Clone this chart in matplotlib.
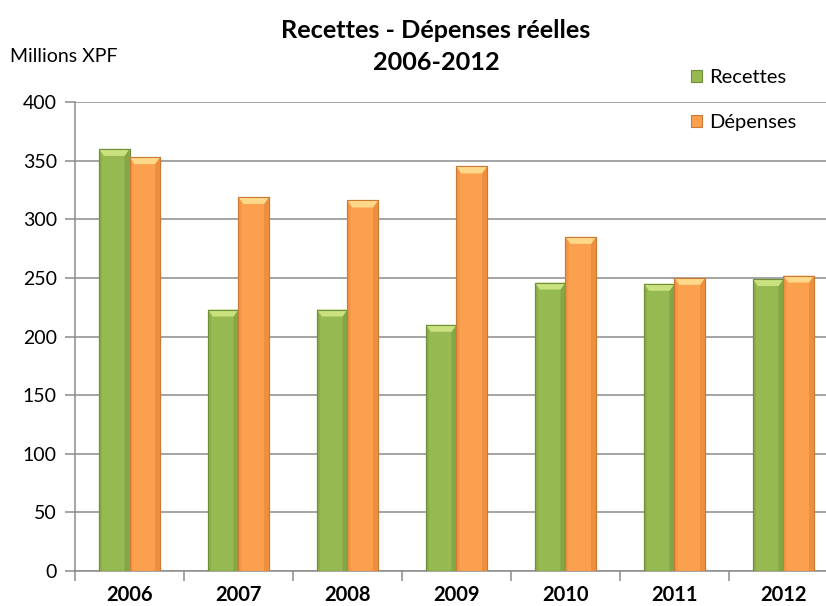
import matplotlib
matplotlib.use("Agg")
import matplotlib.pyplot as plt
from matplotlib.patches import Polygon, Rectangle
import numpy as np

plt.rcParams['font.family'] = ['Lato', 'DejaVu Sans']

years = ["2006", "2007", "2008", "2009", "2010", "2011", "2012"]
recettes = [360, 223, 223, 210, 246, 245, 249]
depenses = [353, 319, 316, 345, 285, 250, 252]
yticks = [0, 50, 100, 150, 200, 250, 300, 350, 400]

green = {"face": "#96B952", "top": "#C9E27F", "edge": "#6F8E38", "side": "#85A646"}
orange = {"face": "#FBA04F", "top": "#FFD98A", "edge": "#C97B36", "side": "#EE8F3E"}

W, H = 826, 606
fig = plt.figure(figsize=(W / 100, H / 100), dpi=100)
x0, x1 = 75, 838
y0, y1 = 571, 102
ax = fig.add_axes([x0 / W, 1 - y0 / H, (x1 - x0) / W, (y0 - y1) / H])

ax.set_xlim(0, len(years))
ax.set_ylim(0, 400)

# pixel -> data scale factors for the bevel shading
px_x = len(years) / (x1 - x0)
px_y = 400 / (y0 - y1)

bw = 0.28


def bevel_bar(xl, val, c):
    xr = xl + bw
    ax.add_patch(Rectangle((xl, 0), bw, val, facecolor=c["face"],
                           edgecolor=c["edge"], linewidth=0.8, zorder=3))
    d = 5 * px_x
    h = 7 * px_y
    # right and left side shading
    ax.add_patch(Polygon([(xr, 0), (xr, val), (xr - d, val - h), (xr - d, 0)],
                         closed=True, facecolor=c["side"], edgecolor="none", zorder=3.5))
    ax.add_patch(Polygon([(xl, 0), (xl, val), (xl + d * 0.6, val - h), (xl + d * 0.6, 0)],
                         closed=True, facecolor=c["side"], edgecolor="none", zorder=3.5, alpha=0.6))
    # lighter top bevel
    ax.add_patch(Polygon([(xl, val), (xr, val), (xr - d, val - h), (xl + d, val - h)],
                         closed=True, facecolor=c["top"], edgecolor="none", zorder=4))
    ax.add_patch(Rectangle((xl, 0), bw, val, facecolor="none",
                           edgecolor=c["edge"], linewidth=0.8, zorder=5))


for i in range(len(years)):
    center = i + 0.5
    bevel_bar(center - bw, recettes[i], green)
    bevel_bar(center, depenses[i], orange)

ax.set_yticks(yticks)
ax.set_yticklabels([str(t) for t in yticks], fontsize=14)
ax.yaxis.grid(True, color="#8C8C8C", linewidth=1.1, zorder=0)
ax.set_axisbelow(True)

ax.set_xticks(np.arange(len(years)) + 0.5)
ax.set_xticklabels(years, fontsize=14.5, fontweight="bold")
ax.set_xticks(np.arange(len(years) + 1), minor=True)
ax.tick_params(axis="x", which="major", length=0, pad=10)
ax.tick_params(axis="x", which="minor", length=7, color="#8C8C8C", width=1.1)
ax.tick_params(axis="y", length=7, color="#8C8C8C", width=1.1, pad=6)

for s in ["top", "right"]:
    ax.spines[s].set_visible(False)
for s in ["left", "bottom"]:
    ax.spines[s].set_color("#8C8C8C")
    ax.spines[s].set_linewidth(1.1)

fig.text(436 / W, 1 - 30 / H, "Recettes - Dépenses réelles", ha="center", va="center",
         fontsize=18.2, fontweight="bold")
fig.text(436 / W, 1 - 63 / H, "2006-2012", ha="center", va="center",
         fontsize=18.2, fontweight="bold")
fig.text(10 / W, 1 - 56 / H, "Millions XPF", ha="left", va="center", fontsize=14)

handles = [
    Rectangle((0, 0), 1, 1, facecolor=green["face"], edgecolor=green["edge"], linewidth=0.8),
    Rectangle((0, 0), 1, 1, facecolor=orange["face"], edgecolor=orange["edge"], linewidth=0.8),
]
leg = fig.legend(handles, ["Recettes", "Dépenses"], loc="center left",
                 bbox_to_anchor=(673 / W, 1 - 100 / H), frameon=False, fontsize=14.5,
                 handlelength=0.55, handleheight=0.55, handletextpad=0.35, labelspacing=1.4)

fig.savefig("out.png", dpi=100)
